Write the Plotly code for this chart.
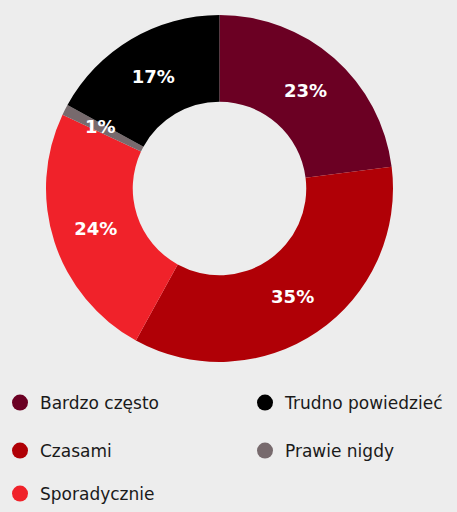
import math
import plotly.graph_objects as go

labels = ["Bardzo często", "Czasami", "Sporadycznie", "Prawie nigdy", "Trudno powiedzieć"]
values = [23, 35, 24, 1, 17]
colors = ["#6b0023", "#b00006", "#f0222a", "#776a6d", "#000000"]

# legend grid: (column, row) of each label's entry
legend_cells = [(0, 0), (0, 1), (0, 2), (1, 1), (1, 0)]

BG = "#ededed"
LFONT = "DejaVu Sans"
W, H = 457, 512
HOLE = 0.5
dom_x = [46 / W, 393 / W]
dom_y = [1 - 362 / H, 1 - 15 / H]
leg_col_x = [0, 245 / W]
# rows: (y, yanchor)
leg_rows = [(1 - 403 / H, "middle"), (1 - 451 / H, "middle"), (0, "bottom")]

total = sum(values)
small = [v / total < 0.03 for v in values]
texts = ["" if s else f"{v / total:.0%}" for v, s in zip(values, small)]

fig = go.Figure()
fig.add_trace(go.Pie(
    labels=labels, values=values, sort=False, direction="clockwise", rotation=0,
    hole=HOLE, marker=dict(colors=colors, line=dict(width=0)),
    text=texts, textinfo="text", textposition="inside",
    insidetextorientation="horizontal",
    textfont=dict(family=LFONT, size=18, color="white", weight="bold"),
    showlegend=False, hoverinfo="label+percent",
    domain=dict(x=dom_x, y=dom_y),
))

# labels for slices too thin to hold their own text: placed at slice mid-angle
cx = (dom_x[0] + dom_x[1]) / 2 * W
cy = (1 - (dom_y[0] + dom_y[1]) / 2) * H
R = min((dom_x[1] - dom_x[0]) * W, (dom_y[1] - dom_y[0]) * H) / 2
cum = 0
for v, s in zip(values, small):
    mid = (cum + v / 2) / total * 2 * math.pi
    cum += v
    if s:
        r = R * (1 + HOLE) / 2 + 3
        px = cx + r * math.sin(mid)
        py = cy - r * math.cos(mid) - 2
        fig.add_annotation(
            x=px / W, y=1 - py / H, xref="paper", yref="paper",
            xanchor="center", yanchor="middle",
            text=f"{v / total:.0%}", showarrow=False,
            font=dict(family=LFONT, size=18, color="white", weight="bold"),
        )

legends = {}
for k, (lab, col, (c, r)) in enumerate(zip(labels, colors, legend_cells)):
    lid = "legend" if k == 0 else f"legend{k + 1}"
    fig.add_trace(go.Scatter(
        x=[None], y=[None], mode="markers", name=lab,
        marker=dict(symbol="circle", size=17, color=col),
        legend=lid, showlegend=True,
    ))
    legends[lid] = dict(
        orientation="v", bgcolor="rgba(0,0,0,0)", borderwidth=0,
        font=dict(family=LFONT, size=17, color="#1a1a1a"),
        yanchor=leg_rows[r][1], xanchor="left", itemsizing="trace",
        x=leg_col_x[c], y=leg_rows[r][0],
    )

fig.update_layout(
    width=W, height=H,
    margin=dict(l=0, r=0, t=0, b=0),
    paper_bgcolor=BG, plot_bgcolor=BG,
    xaxis=dict(visible=False), yaxis=dict(visible=False),
    **legends,
)
fig.write_html("out.html")
